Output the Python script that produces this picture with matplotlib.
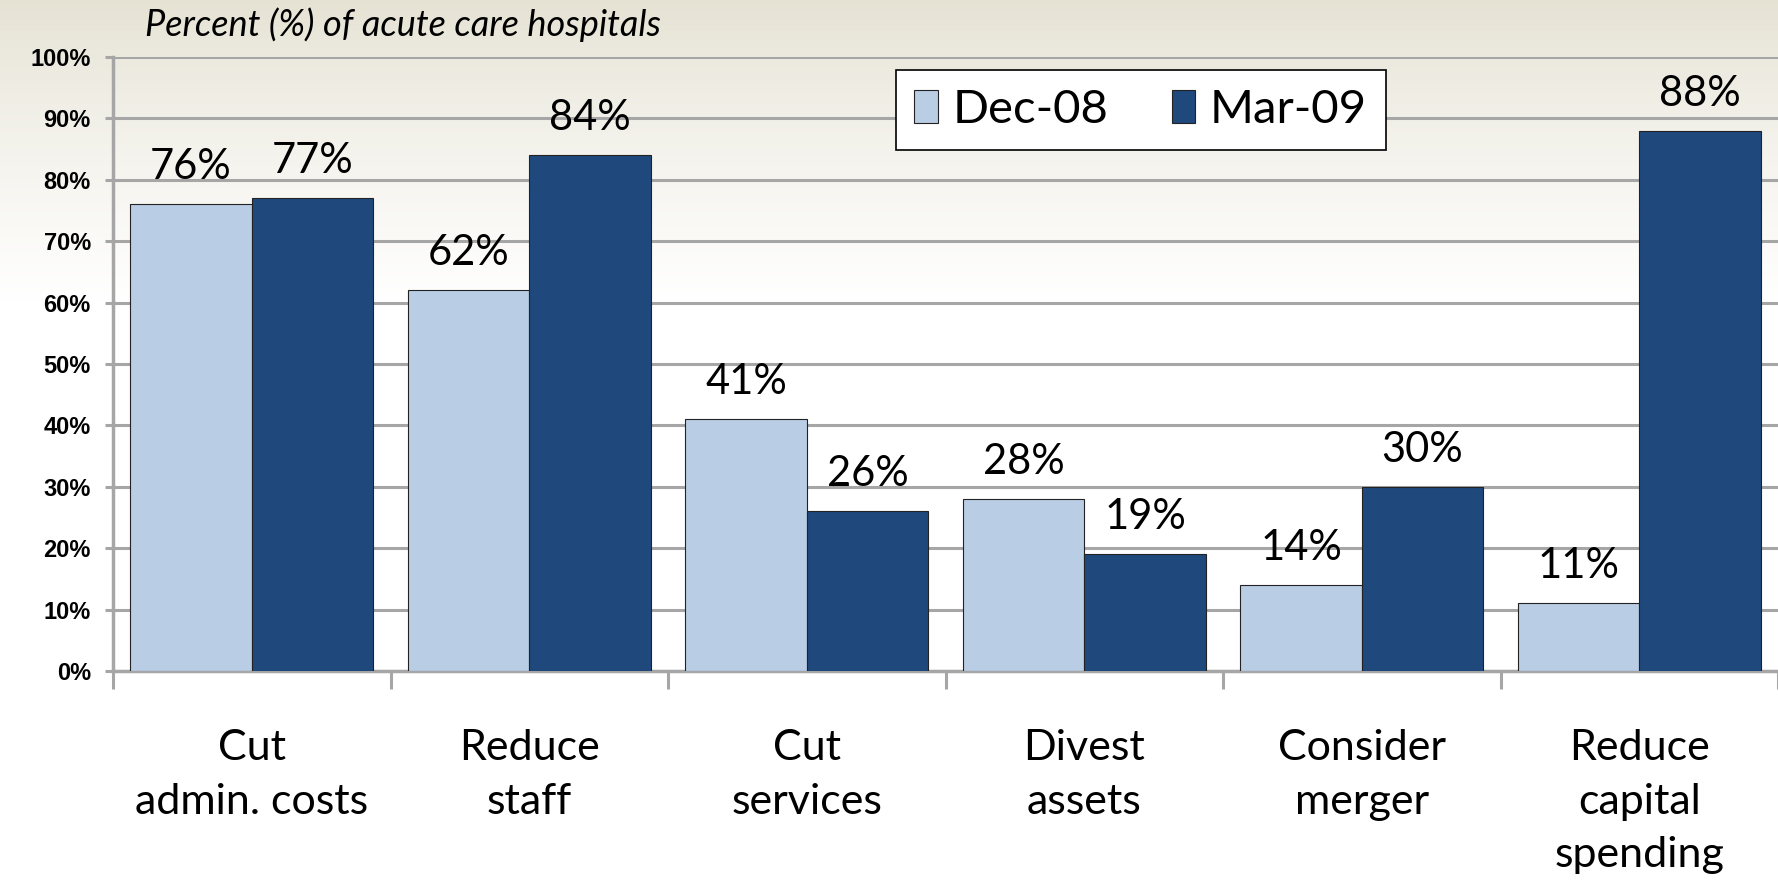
import numpy as np
import matplotlib
matplotlib.use('Agg')
import matplotlib.pyplot as plt

categories = ['Cut\nadmin. costs', 'Reduce\nstaff', 'Cut\nservices', 'Divest\nassets',
              'Consider\nmerger', 'Reduce\ncapital\nspending']
dec08 = [76, 62, 41, 28, 14, 11]
mar09 = [77, 84, 26, 19, 30, 88]
series_names = ['Dec-08', 'Mar-09']
yticks = [0, 10, 20, 30, 40, 50, 60, 70, 80, 90, 100]

LIGHT = '#b9cde5'
DARK = '#1f497d'
GRID = '#a6a6a6'
FONT = 'Lato'

fig = plt.figure(figsize=(17.78, 8.85), dpi=100)

# beige -> white vertical gradient behind everything
bg = fig.add_axes([0, 0, 1, 1], zorder=-10)
rows = np.linspace(0, 1, 885)
s = np.clip(rows / 0.34, 0, 1) ** 0.8
beige = np.array([0.898, 0.886, 0.827])
white = np.array([1.0, 1.0, 1.0])
grad = beige[None, :] * (1 - s[:, None]) + white[None, :] * s[:, None]
bg.imshow(np.repeat(grad[:, None, :], 2, axis=1), aspect='auto', extent=[0, 1, 0, 1])
bg.axis('off')

ax = fig.add_axes([0.0636, 0.2418, 0.9364, 0.6938])
ax.set_facecolor('none')

x = np.arange(len(categories))
w = 0.4375
b1 = ax.bar(x - w / 2, [v / 100 for v in dec08], w, color=LIGHT, edgecolor='#222222', linewidth=0.8, zorder=3, label=series_names[0])
b2 = ax.bar(x + w / 2, [v / 100 for v in mar09], w, color=DARK, edgecolor='#222222', linewidth=0.8, zorder=3, label=series_names[1])

for bars, vals in [(b1, dec08), (b2, mar09)]:
  for rect, v in zip(bars, vals):
    ax.annotate('{}%'.format(v), (rect.get_x() + rect.get_width() / 2, rect.get_height()),
                xytext=(0, 18), textcoords='offset points', ha='center', va='baseline',
                fontsize=30, family=FONT, color='black', zorder=4)

ax.set_xlim(-0.5, len(categories) - 0.5)
ax.set_ylim(0, 1.0)
ax.set_yticks([t / 100 for t in yticks])
ax.set_yticklabels(['{}%'.format(t) for t in yticks], fontsize=17, fontweight='bold', family='Liberation Sans')
ax.yaxis.grid(True, color=GRID, linewidth=2.2, zorder=0)
ax.set_axisbelow(True)

ax.set_xticks(np.arange(-0.5, len(categories)), minor=False)
ax.set_xticklabels([])
ax.set_xticks(x, minor=True)
ax.set_xticklabels(categories, minor=True, fontsize=31, family=FONT, linespacing=1.5)
ax.tick_params(axis='x', which='major', direction='out', length=13, width=2.2, color=GRID)
ax.tick_params(axis='x', which='minor', length=0, pad=42)
ax.tick_params(axis='y', direction='out', length=6, width=2.2, color=GRID, pad=10)

for side in ['top', 'right']:
  ax.spines[side].set_visible(False)
for side in ['left', 'bottom']:
  ax.spines[side].set_color(GRID)
  ax.spines[side].set_linewidth(2.5)

leg = ax.legend(loc='upper left', bbox_to_anchor=(0.470, 0.979), ncol=2, frameon=True, fancybox=False,
                edgecolor='black', framealpha=1, prop={'family': FONT, 'size': 34},
                handlelength=0.5, handleheight=0.7, handletextpad=0.3, columnspacing=1.35,
                borderpad=0.4, borderaxespad=0)
leg.get_frame().set_linewidth(1.2)

fig.text(0.0816, 0.972, 'Percent (%) of acute care hospitals', fontsize=26, style='italic',
         family=FONT, va='center', ha='left')

fig.savefig('out.png', dpi=100)
